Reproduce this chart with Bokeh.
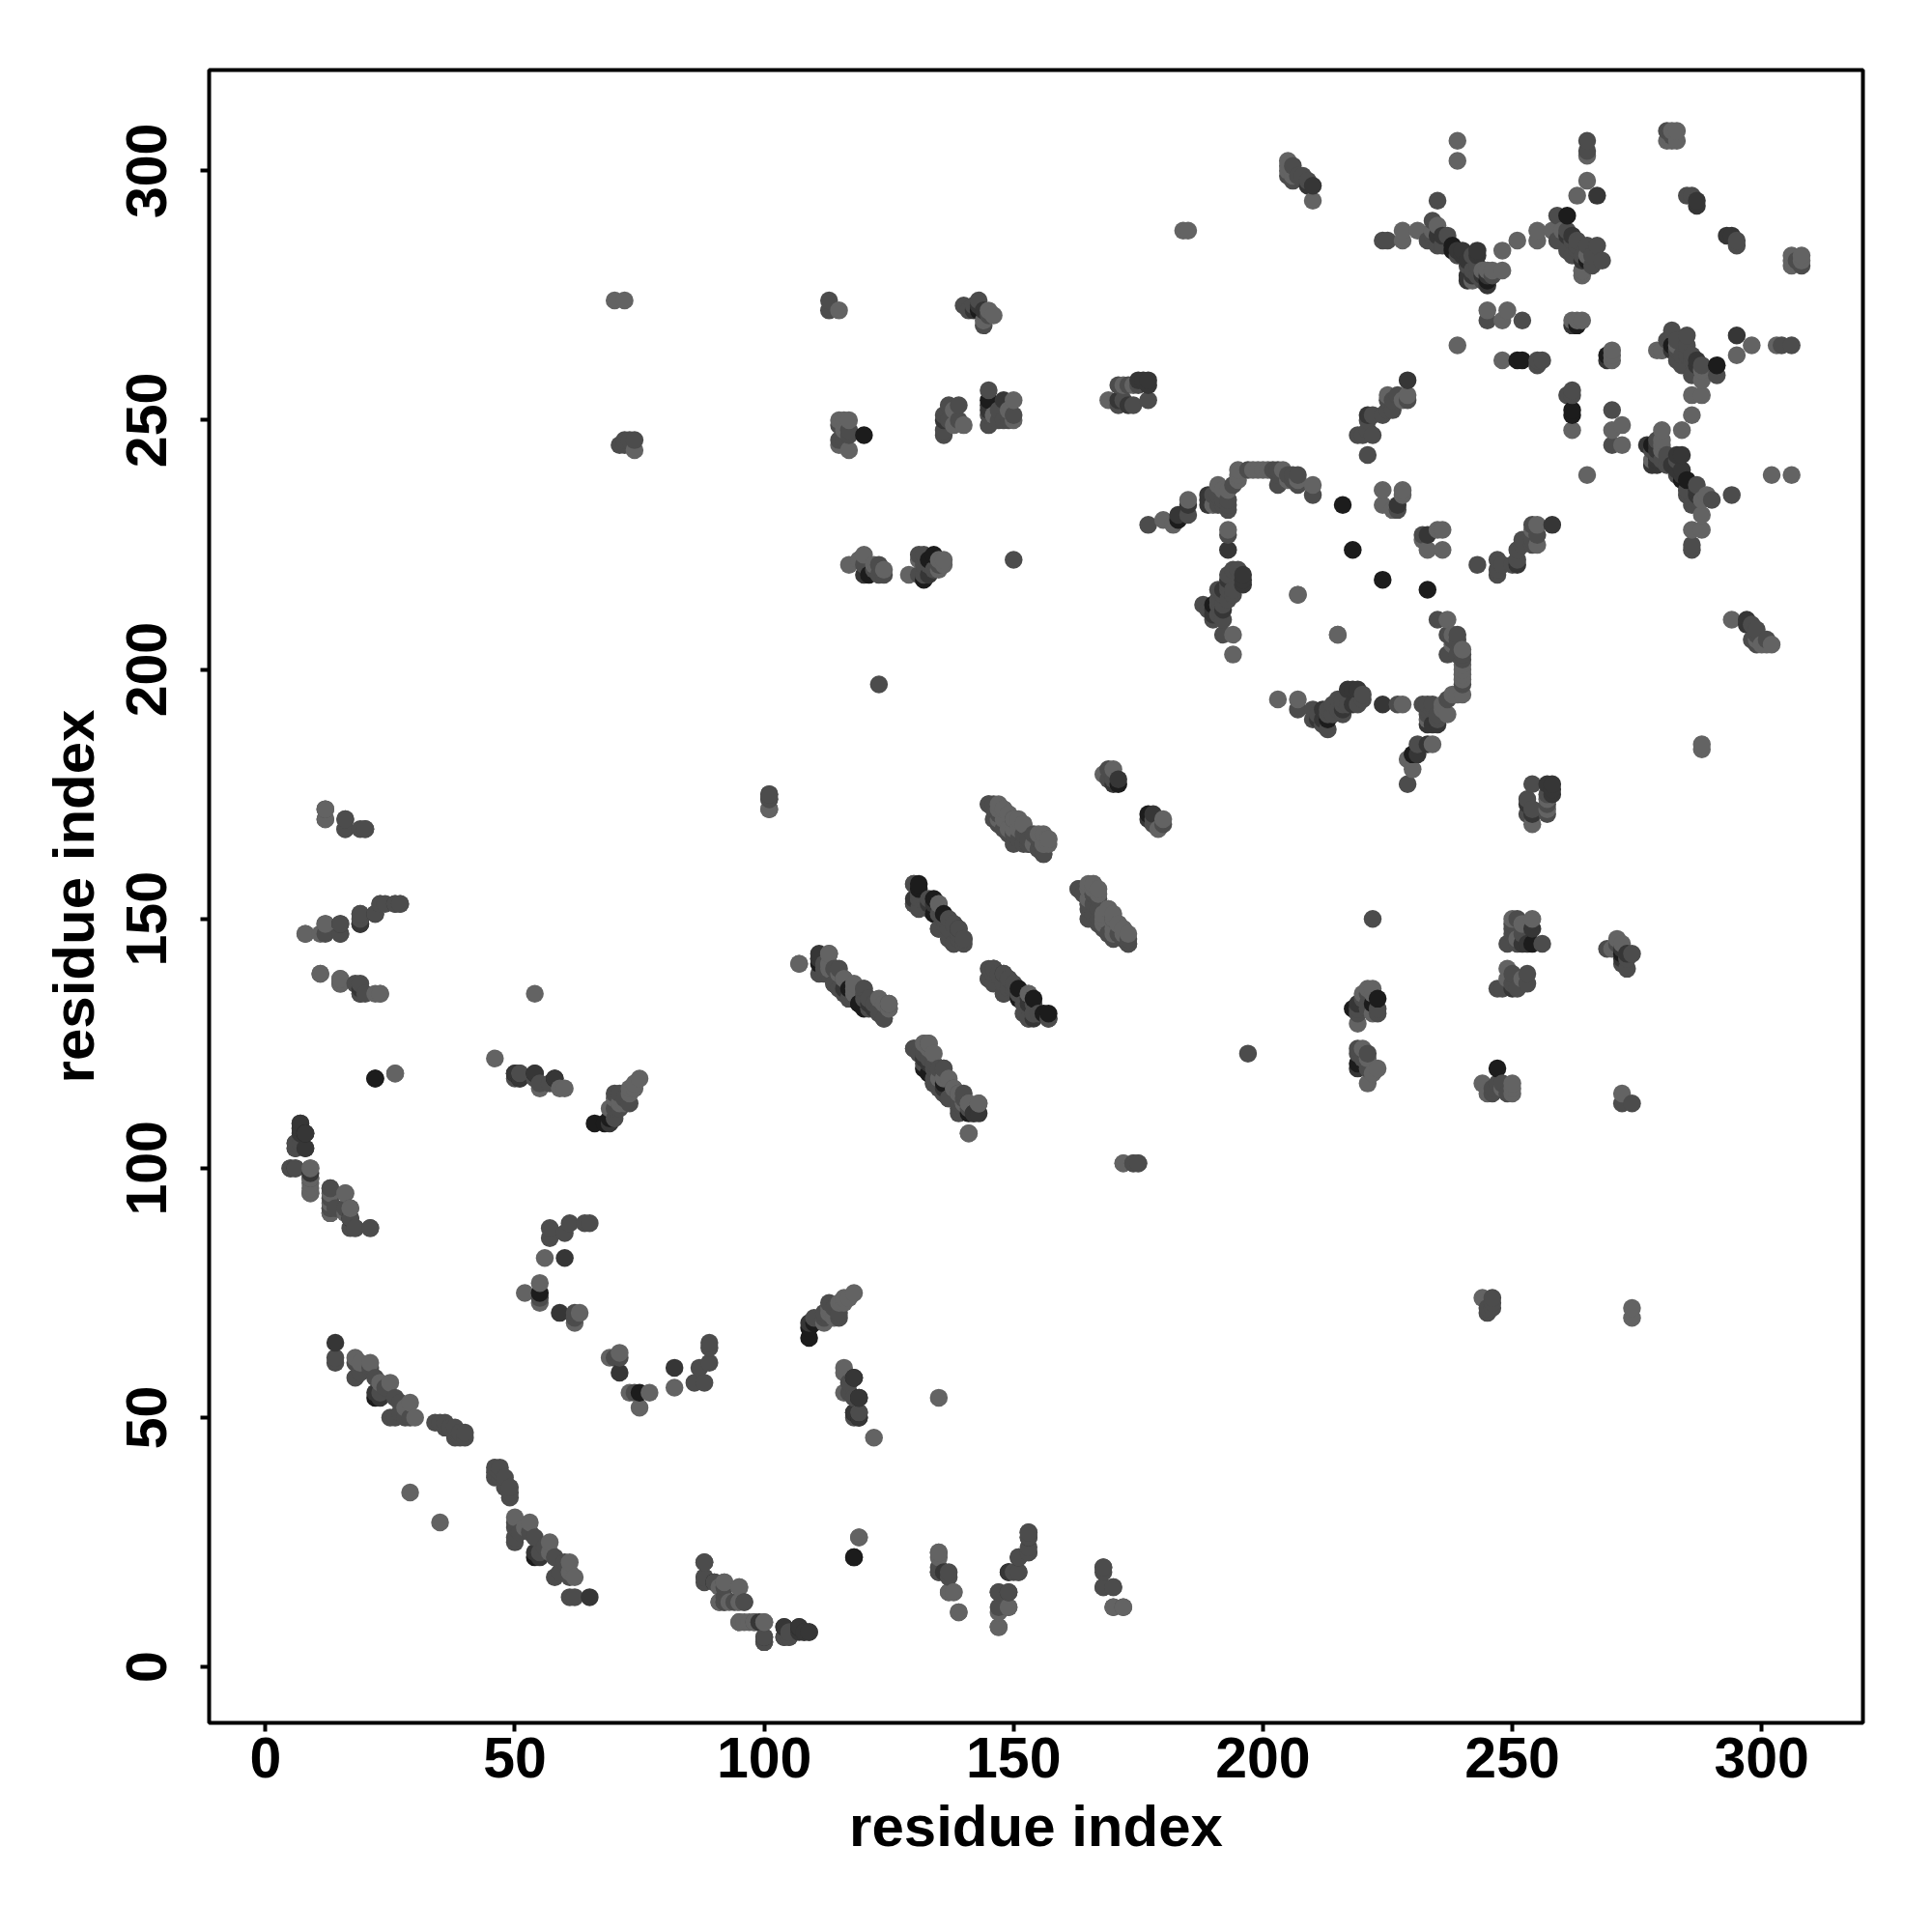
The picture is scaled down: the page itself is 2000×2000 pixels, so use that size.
from bokeh.embed import file_html
from bokeh.resources import INLINE
from bokeh.plotting import figure
from bokeh.models import Range1d, FixedTicker, ColumnDataSource

# contact pairs (i < j); the map is symmetric
pale = [(11,139),(15,138),(22,135),(23,135),(54,135),(46,122),(26,119),(59,116),(60,116),(55,116),
        (70,114),(72,113),(73,116),(74,117),(75,118),(9,96),(9,95),(16,95),(17,92),(13,93),(13,91),
        (56,82),(52,75),(55,77),(55,73),(62,69),(63,71),(18,62),(21,61),(25,57),
        (29,53),(30,50),(29,35),(119,26),(135,23),(138,15),(137,15),(139,11),(170,12),(172,12),
        (95,16),(95,9),(98,9),(100,9),(147,8),(147,11),(149,12),(70,274),(72,274),(74,244),(101,172),
        (115,272),(145,272),(146,271),(144,270),(115,250),(117,250),(117,244),(115,245),(117,221),
        (120,223),(124,220),(129,219),(136,221),(136,222),(140,249),(138,249),(150,250),(150,254),
        (169,254),(107,141),(113,143),(116,138),(125,133),(141,107),(143,113),(141,113),(135,153),
        (148,172),(149,168),(152,169),(150,170),(154,165),(157,166),(156,166),(166,157),(167,156),
        (171,149),(169,152),(173,147),(172,101),(180,230),(182,229),(185,234),(195,240),(198,240),
        (195,238),(193,228),(194,207),(194,203),(207,215),(215,207),(191,237),(193,236),(200,240),
        (210,237),(228,236),(224,236),(224,233),(226,232),(228,235),(239,306),(239,302),(239,265),
        (231,288),(228,288),(235,289),(248,284),(248,280),(246,280),(251,286),(255,288),(258,288),
        (265,303),(265,298),(263,295),(282,308),(281,306),(283,306),(282,306),(283,308),
        (249,272),(248,262),(248,270),(245,272),(262,270),(263,270),(264,270),
        (265,283),(264,280),(260,288),(255,286),(184,288),(185,288),(210,294),
        (205,302),(205,300),(206,299),(205,301),(245,280),(244,280),(242,278),
        (228,286),(225,255),(229,255),(228,254),(199,240),(201,240),(204,240),
        (113,141),(115,139),(118,135),(124,133),(132,125),(134,123),(137,118),(136,118),(140,113),
        (147,172),(147,170),(149,171),(151,168),(155,167),(156,165),(157,165),(165,156),(168,150),
        (170,151),(170,148),(172,148),(168,179),(170,180),(116,250),(116,248),(172,257),(174,257),
        (131,222),(135,222),(135,220),(119,222),(122,221),(205,238),(207,238),(192,236),
        (280,264),(264,279),(234,288),(28,52),(23,57),(19,61),(9,97),(16,91),(13,95),
        (69,112),(71,113),(73,115),(74,116),(146,251),(149,252),(138,252),(190,233),(195,239)]

mid = [(15,137),(18,137),(20,135),(50,118),(54,118),(55,117),(57,117),
       (70,115),(71,115),(70,110),(5,100),(6,105),(9,100),(9,98),(13,96),(13,92),(16,92),(17,88),(18,88),(21,88),
       (57,88),(57,86),(60,87),(61,89),(64,89),(65,89),(55,74),(62,71),(62,70),(14,62),(14,61),
       (18,58),(22,58),(23,55),(26,54),(25,50),(26,50),(29,50),(34,49),(36,49),(37,48),(38,47),(39,46),
       (40,47),(40,46),(38,46),(88,21),(88,18),(91,13),(92,13),(96,13),(92,17),
       (100,6),(104,6),(105,6),(135,19),(137,19),(147,15),(151,22),(151,19),(153,23),
       (153,27),(168,20),(168,16),(170,16),(8,147),(12,149),(12,147),(15,149),(15,147),(19,151),(19,150),
       (23,153),(24,153),(26,153),(27,153),(12,172),(12,170),(16,170),(16,168),(19,168),(20,168),
       (71,245),(72,246),(73,246),(74,246),(72,245),(101,175),(101,174),(113,272),(113,274),(140,273),(141,272),(144,269),
       (115,246),(117,247),(115,249),(124,219),(123,219),(131,223),(132,223),(134,220),(132,221),(132,219),
       (136,251),(136,247),(137,253),(139,253),(136,248),(145,256),(145,249),(145,251),(148,250),(150,251),
       (171,257),(173,257),(171,253),(177,254),(111,139),(114,140),(114,137),(117,134),(120,136),(121,134),
       (121,132),(125,132),(124,130),(130,124),(133,125),(134,121),(136,120),(134,117),(136,115),(138,116),
       (140,115),(139,112),(130,157),(130,153),(133,154),(136,150),(138,149),(140,146),(138,145),(135,148),
       (145,140),(146,140),(145,138),(148,139),(149,138),(148,135),(153,135),(155,131),(153,130),(145,173),
       (146,173),(146,170),(151,166),(153,166),(156,163),(163,156),(165,153),(165,150),(167,149),(169,147),
       (173,145),(172,146),(174,101),(175,101),(123,197),(150,222),(177,229),(185,231),(191,233),(193,232),(203,240),
       (203,237),(202,240),(206,239),(207,237),(210,235),(193,227),(195,220),(191,216),(194,215),(188,213),
       (190,210),(192,210),(192,207),(221,243),(220,247),(222,247),(224,251),(225,252),(225,254),(229,254),
       (235,294),(234,290),(233,286),(235,285),(224,286),(225,286),
       (239,283),(242,283),(242,280),(259,286),(263,286),(261,284),(264,283),
       (268,282),(265,306),(285,295),(281,308),
       (245,270),(252,270),(255,262),(256,262),(255,261),
       (261,288),(263,285),(262,283),(236,285),(234,287),(209,298),(208,299),(206,298),(205,299),
       (169,178),(170,178),(169,180),
       (112,141),(113,139),(115,136),(118,134),(120,134),(122,133),(123,132),
       (131,123),(135,120),(135,116),(137,114),(139,115),(140,112),
       (131,154),(133,152),(135,151),(137,150),(137,148),(139,146),
       (147,139),(146,137),(149,136),(150,136),(152,131),(154,131),
       (147,169),(150,167),(152,167),(153,165),(155,166),(155,164),
       (164,155),(166,155),(167,154),(165,152),(170,150),(168,148),(171,147),
       (18,61),(21,60),(19,59),(24,56),(27,53),(27,51),(28,50),(35,49),(36,48),(38,48),(39,47),
       (17,90),(14,92),(13,94),(7,105),(51,119),
       (71,112),(72,114),(73,113),(70,112),(143,274),(142,273),(145,271),
       (147,252),(147,250),(149,250),(137,250),(139,250),(116,246),(117,248),
       (120,221),(122,220),(123,221),(133,221),(135,221),(131,219),
       (175,257),(172,254),(174,253),
       (219,247),(221,248),(221,250),(222,251),(226,254),(227,255),(226,252),
       (227,232),
       (190,235),(191,235),(192,234),(193,234),(193,233),(194,237),(197,240),
       (205,239),(207,239),(206,238),(203,239),(192,233),
       (193,219),(194,220),(193,217),(192,215),(191,214),(193,214),
       (191,213),(189,212),(191,211),(193,216),(194,216),(192,213),
       (259,291),(262,286),(263,284),(266,283),(267,285),(266,281),
       (237,287),(243,279),(246,279),(244,278),(241,281),(243,281),
       (286,295),(206,301),(207,299),(265,304),(265,285),(282,307)]

dark = [(19,135),(19,136),(58,118),(54,119),(69,109),(7,109),(6,104),(8,104),(6,100),(60,82),
        (59,71),(14,65),(22,55),(23,54),(100,5),(104,8),(108,7),(109,7),(107,8),(149,15),(153,26),(19,149),(22,151),
        (143,273),(144,272),(136,250),(145,253),(148,254),(175,258),(173,253),(177,257),(177,258),(171,254),(111,142),
        (133,121),(143,111),(130,154),(139,148),(151,135),(157,130),(153,134),(171,178),(170,177),(185,233),(183,231),(189,234),
        (193,224),(196,219),(196,217),(193,218),(190,212),(192,212),(192,216),(221,251),(229,258),(227,233),
        (243,284),(241,279),(245,279),(267,295),(287,294),(287,293),(262,269),(261,287),(243,283),(236,287),(235,287),
        (210,297),(209,297),(196,218),(190,211),(189,233),(189,235),(262,287),(264,282),(50,119),(51,118),(245,277),
        (241,282),(244,279),(240,284),(239,284),(240,283),(241,278),(242,279),(142,272),(120,219),(133,219),(135,118),
        (142,111),(176,258),(153,133),(116,136),(122,132),(7,107),(7,108),(9,99),(145,252)]

darkest = [(22,118),(66,109),(68,109),(69,110),(8,107),(55,75),(22,54),(90,17),(118,22),(149,19),(118,58),(119,54),
           (120,247),(121,219),(132,218),(134,223),(133,222),(145,254),(143,272),(117,136),(119,133),(133,119),(132,120),
           (141,111),(131,156),(134,151),(154,134),(151,136),(157,131),(171,177),(190,213),(183,230),(238,284),
           (245,278),(261,291),(265,282),(263,269),(252,262),(251,262),(238,285),(216,233),(218,224),(119,51),(118,51),(119,50)]

tick_values = [0, 50, 100, 150, 200, 250, 300]
x_label = "residue index"
y_label = "residue index"
shade_colors = {"pale": "#636363", "mid": "#4c4c4c", "dark": "#363636", "darkest": "#1c1c1c"}

points = []
for name, pairs in (("darkest", darkest), ("dark", dark), ("mid", mid), ("pale", pale)):
    for a, b in set(pairs):
        points.append((a, b, shade_colors[name]))
        points.append((b, a, shade_colors[name]))
points.sort(key=lambda t: (t[0], t[1]))
xs = [t[0] for t in points]
ys = [t[1] for t in points]
cols = [t[2] for t in points]

p = figure(width=1992, height=1992, output_backend="svg", toolbar_location=None,
           x_range=Range1d(-11.3, 320.3), y_range=Range1d(-11.2, 320.2),
           min_border_left=216, min_border_right=64, min_border_top=72, min_border_bottom=209)
p.grid.visible = False
p.background_fill_color = "white"
p.outline_line_color = "black"
p.outline_line_width = 4
p.outline_line_alpha = 1

source = ColumnDataSource(dict(x=xs, y=ys, c=cols))
p.scatter("x", "y", source=source, size=18.5, fill_color="c", line_color=None)

for ax, lab in ((p.xaxis[0], x_label), (p.yaxis[0], y_label)):
    ax.ticker = FixedTicker(ticks=tick_values)
    ax.axis_label = lab
    ax.axis_line_color = None
    ax.major_tick_line_color = "black"
    ax.major_tick_line_width = 4
    ax.major_tick_out = 9
    ax.major_tick_in = 0
    ax.minor_tick_line_color = None
    ax.major_label_text_font = "Liberation Sans"
    ax.major_label_text_font_style = "bold"
    ax.major_label_text_font_size = "59px"
    ax.major_label_text_color = "black"
    ax.axis_label_text_font = "Liberation Sans"
    ax.axis_label_text_font_style = "bold"
    ax.axis_label_text_font_size = "60px"
    ax.axis_label_text_color = "black"
p.xaxis[0].major_label_standoff = 6
p.xaxis[0].axis_label_standoff = 14
p.yaxis[0].major_label_orientation = "vertical"
p.yaxis[0].major_label_standoff = 35
p.yaxis[0].axis_label_standoff = 19

open("out.html", "w").write(file_html(p, INLINE))
